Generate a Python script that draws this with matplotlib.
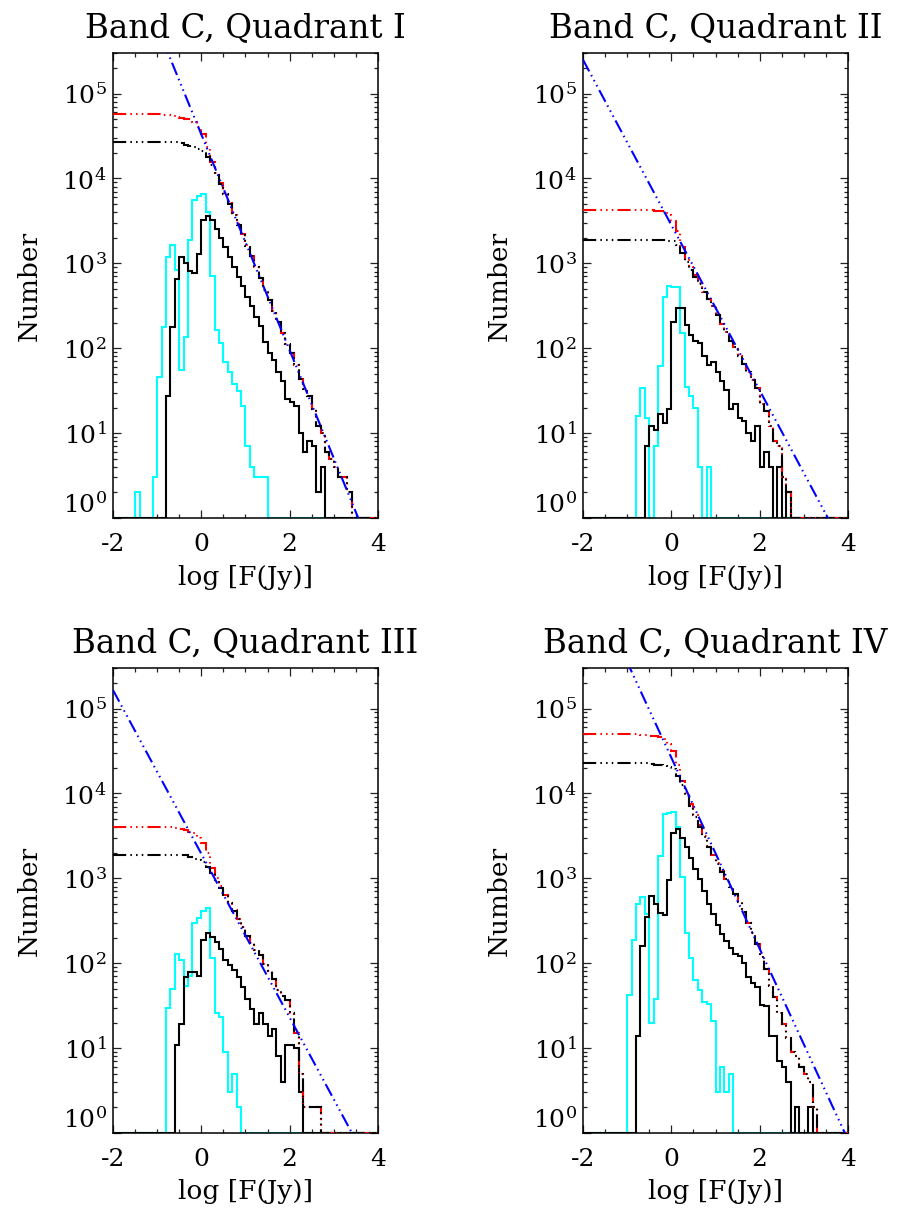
import numpy as np
import matplotlib
matplotlib.use('Agg')
import matplotlib.pyplot as plt
from matplotlib.ticker import FixedLocator, MultipleLocator, LogLocator, NullFormatter

plt.rcParams['font.family'] = 'DejaVu Serif'
plt.rcParams['mathtext.fontset'] = 'dejavuserif'
plt.rcParams['lines.scale_dashes'] = False

# histogram grid: log F from -2 to 4 in 0.1 dex bins
bin_width = 0.1
x_lo, x_hi = -2.0, 4.0

titles = ['Band C, Quadrant I', 'Band C, Quadrant II',
          'Band C, Quadrant III', 'Band C, Quadrant IV']

# counts per bin, listed from the left edge of the first bin given
q1_black_start = -0.8
q1_black = [27, 180, 660, 1180, 1000, 810, 760, 1300,
            3200, 3650, 3200, 2570, 2000, 1550, 1200, 910, 690, 540,
            400, 310, 234, 184, 118, 88, 72, 53, 41, 25,
            23, 21, 10, 6, 8, 7, 2, 4,
            1, 1, 1, 0, 1, 1, 1]
q1_cyan_start = -1.5
q1_cyan = [2, 0, 0, 0, 3, 46, 178, 1200, 1650, 830,
           56, 135, 1870, 5600, 6200, 6600, 4000, 700, 163, 114,
           69, 53, 38, 31, 21, 7, 4, 3, 3, 3]

q2_black_start = -0.6
q2_black = [7, 12, 11, 17, 13, 19,
            205, 300, 295, 188, 143, 120, 115, 80, 63, 69,
            53, 41, 32, 19, 22, 15, 14, 10, 8, 12,
            4, 6, 4, 1, 4, 1, 2]
q2_cyan_start = -0.8
q2_cyan = [16, 34, 15, 0, 7, 61, 405, 535, 525, 525,
           150, 35, 27, 20, 4, 0, 4]

q3_black_start = -0.6
q3_black = [11, 19, 69, 79, 78, 71,
            186, 224, 205, 178, 148, 109, 95, 83, 69, 53,
            38, 29, 19, 26, 19, 14, 17, 8, 4, 11,
            11, 10, 3, 0, 0, 0, 1, 0, 0, 0, 1]
q3_cyan_start = -0.8
q3_cyan = [30, 50, 128, 109, 54, 70, 295, 340, 410, 450,
           114, 26, 23, 9, 3, 5, 2]

q4_black_start = -0.8
q4_black = [14, 158, 350, 615, 500, 390, 365, 950,
            3400, 3800, 3000, 2350, 1750, 1300, 980, 700, 500, 380,
            280, 218, 181, 150, 130, 123, 100, 69, 58, 52,
            32, 31, 14, 14, 7, 6, 4, 1, 2, 1,
            1, 2, 1, 0, 1]
q4_cyan_start = -1.0
q4_cyan = [42, 190, 500, 600, 384, 20, 38, 1820, 5750, 5900,
           6000, 4000, 1040, 224, 114, 63, 48, 35, 33, 21,
           3, 6, 3, 5]

# power-law fit, value at log F = -2 and 4
fit_x = [-2.0, 4.0]
q1_fit = [1.15e7, 0.27]
q2_fit = [2.5e5, 0.36]
q3_fit = [1.65e5, 0.27]
q4_fit = [4.7e6, 0.83]

panels = [
    (titles[0], q1_black_start, q1_black, q1_cyan_start, q1_cyan, q1_fit),
    (titles[1], q2_black_start, q2_black, q2_cyan_start, q2_cyan, q2_fit),
    (titles[2], q3_black_start, q3_black, q3_cyan_start, q3_cyan, q3_fit),
    (titles[3], q4_black_start, q4_black, q4_cyan_start, q4_cyan, q4_fit),
]

nbins = int(round((x_hi - x_lo) / bin_width))
edges = np.linspace(x_lo, x_hi, nbins + 1)
dash3dot = (0, (9.5, 3, 1.1, 3, 1.1, 3, 1.1, 3))


def on_grid(start, counts):
    full = np.zeros(nbins)
    i0 = int(round((start - x_lo) / bin_width))
    full[i0:i0 + len(counts)] = counts
    return full


def rev_cumsum(a):
    return np.cumsum(a[::-1])[::-1]


def panel(ax, title, b_start, black, c_start, cyan, fit):
    b = on_grid(b_start, black)
    c = on_grid(c_start, cyan)
    floor = 1.0
    ax.stairs(np.maximum(c, floor), edges, color='cyan', lw=1.5,
              baseline=None, zorder=2)
    ax.stairs(np.maximum(b, floor), edges, color='black', lw=1.5,
              baseline=None, zorder=3)
    ax.stairs(np.maximum(rev_cumsum(b + c), floor), edges, color='red',
              lw=1.5, ls=dash3dot, baseline=None, zorder=4)
    ax.stairs(np.maximum(rev_cumsum(b), floor), edges, color='black',
              lw=1.5, ls=dash3dot, baseline=None, zorder=5)
    ax.plot(fit_x, fit, color='blue', lw=1.5, ls=dash3dot, zorder=6)

    ax.set_yscale('log')
    ax.set_xlim(x_lo, x_hi)
    ax.set_ylim(1, 3e5)

    ax.xaxis.set_major_locator(FixedLocator([-2, 0, 2, 4]))
    ax.set_xticklabels(['-2', '0', '2', '4'])
    ax.xaxis.set_minor_locator(MultipleLocator(0.5))
    ax.yaxis.set_major_locator(FixedLocator([1, 10, 100, 1e3, 1e4, 1e5]))
    ax.set_yticklabels([r'$\mathregular{10^{%d}}$' % k for k in range(6)])
    ax.yaxis.set_minor_locator(LogLocator(base=10, subs=np.arange(2, 10)))
    ax.yaxis.set_minor_formatter(NullFormatter())
    ax.tick_params(which='both', direction='in', top=True, right=True,
                   width=0.9, color='#222222')
    ax.tick_params(which='major', length=6)
    ax.tick_params(which='minor', length=3)
    ax.tick_params(axis='x', which='major', labelsize=18, pad=11)
    ax.tick_params(axis='y', which='major', labelsize=18, pad=4.5)
    ax.yaxis.get_major_ticks()[0].label1.set_verticalalignment('bottom')
    for s in ax.spines.values():
        s.set_linewidth(1.1)

    ax.set_title(title, fontsize=23.5, pad=11.5)
    ax.set_xlabel('log [F(Jy)]', fontsize=19)
    ax.xaxis.set_label_coords(0.5, -0.10)
    ax.set_ylabel('Number', fontsize=19)
    ax.yaxis.set_label_coords(-0.27, 0.5)


fig = plt.figure(figsize=(8.99, 12.16), dpi=100)
W, H = 899.0, 1216.0
boxes = [(113, 53), (583, 53), (113, 668), (583, 668)]
for (left, top), spec in zip(boxes, panels):
    ax = fig.add_axes([left / W, 1 - (top + 465) / H, 265 / W, 465 / H])
    panel(ax, *spec)

fig.savefig('out.png', dpi=100)
